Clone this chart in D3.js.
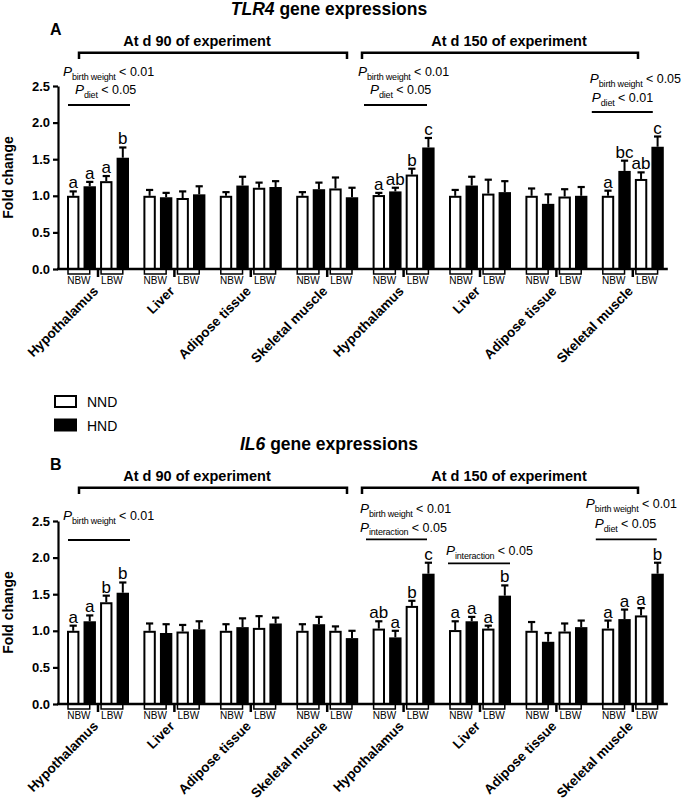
<!DOCTYPE html>
<html><head><meta charset="utf-8">
<script src="https://cdn.jsdelivr.net/npm/d3@7"></script>
<style>
body{margin:0;background:#fff;}
svg{display:block;font-family:"Liberation Sans",Arial,sans-serif;}
</style></head><body>
<svg id="chart" width="685" height="802"></svg>
<script>
// ---------------- data ----------------
const tissues = ["Hypothalamus","Liver","Adipose tissue","Skeletal muscle",
                 "Hypothalamus","Liver","Adipose tissue","Skeletal muscle"];
const periods = ["At d 90 of experiment","At d 150 of experiment"];
const conditions = ["NBW-NND","NBW-HND","LBW-NND","LBW-HND"];
const birthWeights = ["NBW","LBW"];
const diets = ["NND","HND"];
const yTicks = [0,0.5,1.0,1.5,2.0,2.5];

const tlr4Mean = [[1.00,1.13,1.20,1.52],[1.00,0.98,0.97,1.02],[1.00,1.14,1.11,1.12],[1.00,1.09,1.10,0.98],
                  [1.01,1.06,1.29,1.66],[1.00,1.14,1.03,1.05],[1.00,0.89,0.99,1.00],[1.00,1.34,1.23,1.67]];
const tlr4Sem  = [[0.06,0.06,0.07,0.14],[0.08,0.06,0.09,0.11],[0.05,0.12,0.07,0.08],[0.05,0.09,0.15,0.13],
                  [0.03,0.05,0.08,0.13],[0.08,0.12,0.19,0.15],[0.10,0.13,0.10,0.12],[0.07,0.14,0.09,0.14]];
const tlr4Letters = [["a","a","a","b"],[],[],[],["a","ab","b","c"],[],[],["a","bc","ab","c"]];

const il6Mean = [[1.00,1.13,1.39,1.52],[1.00,0.97,0.99,1.02],[1.00,1.05,1.04,1.10],[1.00,1.09,1.00,0.90],
                 [1.03,0.91,1.34,1.78],[1.01,1.13,1.03,1.48],[1.00,0.85,0.99,1.05],[1.03,1.16,1.21,1.78]];
const il6Sem  = [[0.07,0.08,0.09,0.14],[0.10,0.12,0.09,0.11],[0.09,0.12,0.16,0.08],[0.09,0.10,0.06,0.10],
                 [0.10,0.09,0.07,0.15],[0.12,0.06,0.04,0.14],[0.12,0.12,0.11,0.09],[0.11,0.13,0.10,0.15]];
const il6Letters = [["a","a","b","b"],[],[],[],["ab","a","b","c"],["a","a","a","b"],[],["a","a","a","b"]];

// P-value annotations: [group, line1 subscript, line1 value, line2 subscript, line2 value]
const tlr4Stats = [[0,"birth weight","< 0.01","diet","< 0.05"],[4,"birth weight","< 0.01","diet","< 0.05"],[7,"birth weight","< 0.05","diet","< 0.01"]];
const il6Stats  = [[0,"birth weight","< 0.01"],[4,"birth weight","< 0.01","interaction","< 0.05"],[5,"interaction","< 0.05"],[7,"birth weight","< 0.01","diet","< 0.05"]];

// ---------------- drawing ----------------
const svg = d3.select("#chart");
const x0 = d3.scaleBand().domain(d3.range(tissues.length)).range([67, 67 + 8*76.4]);
const xb = d3.scaleBand().domain(conditions).range([0, 62]).paddingInner(0.25);
const bw = xb.bandwidth();
const fillOf = c => c.endsWith("HND") ? "#000" : "#fff";

function pText(sel, x, y, sub, val){
  const t = sel.append("text").attr("x", x).attr("y", y).attr("fill","#000");
  t.append("tspan").attr("font-style","italic").attr("font-size",13.5).text("P");
  t.append("tspan").attr("font-size",9).attr("dy",3.5).attr("letter-spacing",-0.2).text(sub);
  t.append("tspan").attr("font-size",12.5).attr("dy",-3.5).text(" " + val);
}

function drawPanel(off, cfg){
  const g = svg.append("g").attr("transform", `translate(0,${off})`);
  const y = d3.scaleLinear().domain([0,2.5]).range([269, 86]);
  const base = y(0);

  // title
  const tt = g.append("text").attr("x", 329).attr("y", 15).attr("text-anchor","middle")
    .attr("font-size",17.5).attr("font-weight","bold");
  tt.append("tspan").attr("font-style","italic").text(cfg.gene);
  tt.append("tspan").text(" gene expressions");
  g.append("text").attr("x",50).attr("y",35).attr("font-size",16).attr("font-weight","bold").text(cfg.letter);

  // period brackets
  const brk = [[79,347,197],[362,638,509]];
  periods.forEach((p,i)=>{
    const [a,b,c] = brk[i];
    g.append("text").attr("x",c).attr("y",46).attr("text-anchor","middle")
      .attr("font-size",14.5).attr("font-weight","bold").text(p);
    g.append("path").attr("d",`M${a},59V52.7H${b}V59`).attr("fill","none")
      .attr("stroke","#000").attr("stroke-width",2.5);
  });

  // y axis
  const ya = g.append("g").attr("transform","translate(58,0)")
    .call(d3.axisLeft(y).tickValues(yTicks).tickFormat(d3.format(".1f")).tickSize(5).tickSizeOuter(0).tickPadding(3));
  ya.select(".domain").attr("stroke-width",2.2);
  ya.selectAll(".tick line").attr("stroke-width",2.2);
  ya.selectAll(".tick text").attr("font-size",13).attr("font-weight","bold")
    .attr("font-family",'"Liberation Sans",Arial,sans-serif').attr("fill","#000");
  g.append("text").attr("transform",`translate(13,${(y(0)+y(2.5))/2}) rotate(-90)`)
    .attr("text-anchor","middle").attr("font-size",14).attr("font-weight","bold").text("Fold change");

  // bars
  tissues.forEach((t,gi)=>{
    const gx = x0(gi);
    conditions.forEach((c,ci)=>{
      const v = cfg.mean[gi][ci], e = cfg.sem[gi][ci];
      const bx = gx + xb(c), cx = bx + bw/2;
      g.append("line").attr("x1",cx).attr("x2",cx).attr("y1",y(v)).attr("y2",y(v+e))
        .attr("stroke","#000").attr("stroke-width",2);
      g.append("line").attr("x1",cx-3.6).attr("x2",cx+3.6).attr("y1",y(v+e)).attr("y2",y(v+e))
        .attr("stroke","#000").attr("stroke-width",2.2);
      g.append("rect").attr("x",bx+1).attr("y",y(v)+1).attr("width",bw-2).attr("height",base-y(v)-1)
        .attr("fill",fillOf(c)).attr("stroke","#000").attr("stroke-width",2);
      const L = cfg.letters[gi][ci];
      if (L) g.append("text").attr("x",cx).attr("y",y(v+e)-3).attr("text-anchor","middle")
        .attr("font-size",17).text(L);
    });
    // birth-weight brackets & labels
    birthWeights.forEach((bwName,k)=>{
      const a = gx + xb(conditions[2*k]) + 1, b = gx + xb(conditions[2*k+1]) + bw/2;
      g.append("path").attr("d",`M${a},${base}V${base+5}H${b}V${base}`).attr("fill","none")
        .attr("stroke","#000").attr("stroke-width",1.5);
      g.append("text").attr("x",(a+b)/2).attr("y",base+14.5).attr("text-anchor","middle")
        .attr("font-size",10).text(bwName);
    });
    // mid tick
    const mt = gx + (xb(conditions[1]) + bw + xb(conditions[2]))/2;
    g.append("line").attr("x1",mt).attr("x2",mt).attr("y1",base).attr("y2",base+8)
      .attr("stroke","#000").attr("stroke-width",2.5);
    // tissue label
    g.append("text").attr("transform",`translate(${gx+32},${base+23}) rotate(-45)`)
      .attr("text-anchor","end").attr("font-size",13.5).attr("font-weight","bold").text(t);
  });

  // x axis line
  g.append("line").attr("x1",57).attr("x2",x0(7)+66).attr("y1",base).attr("y2",base)
    .attr("stroke","#000").attr("stroke-width",2.5);

  // stats annotations
  cfg.stats.forEach((s,i)=>{
    const L = cfg.statLayout[i];
    const gx = x0(s[0]);
    pText(g, gx+L.t1, L.y1, s[1], s[2]);
    if (s.length > 3) pText(g, gx+L.t2, L.y2, s[3], s[4]);
    g.append("line").attr("x1",gx+L.l1).attr("x2",gx+L.l2).attr("y1",L.ly).attr("y2",L.ly)
      .attr("stroke","#000").attr("stroke-width",1.8);
  });
}

drawPanel(0, {gene:"TLR4", letter:"A", mean:tlr4Mean, sem:tlr4Sem, letters:tlr4Letters, stats:tlr4Stats,
  statLayout:[{t1:-4,y1:76,t2:8,y2:94,l1:1,l2:63,ly:105},
              {t1:-14.6,y1:76,t2:-2.6,y2:94,l1:-8.6,l2:54.4,ly:105},
              {t1:-12,y1:83,t2:-10,y2:102,l1:-10,l2:51,ly:112}]});
drawPanel(435, {gene:"IL6", letter:"B", mean:il6Mean, sem:il6Sem, letters:il6Letters, stats:il6Stats,
  statLayout:[{t1:-4,y1:85,l1:1,l2:63,ly:105},
              {t1:-12.6,y1:78,t2:-12.6,y2:96.5,l1:-6.6,l2:54.4,ly:104.3},
              {t1:-3,y1:120,l1:-1,l2:61,ly:128.3},
              {t1:-16,y1:73,t2:-7,y2:93,l1:-6,l2:55,ly:104.3}]});

// legend
const lg = svg.append("g");
diets.forEach((d,i)=>{
  const yy = 396 + i*23.5;
  lg.append("rect").attr("x",55).attr("y",yy).attr("width",21).attr("height",11)
    .attr("fill", d==="HND" ? "#000" : "#fff").attr("stroke","#000").attr("stroke-width",2);
  lg.append("text").attr("x",87).attr("y",yy+11).attr("font-size",14).text(d);
});
</script>
</body></html>
